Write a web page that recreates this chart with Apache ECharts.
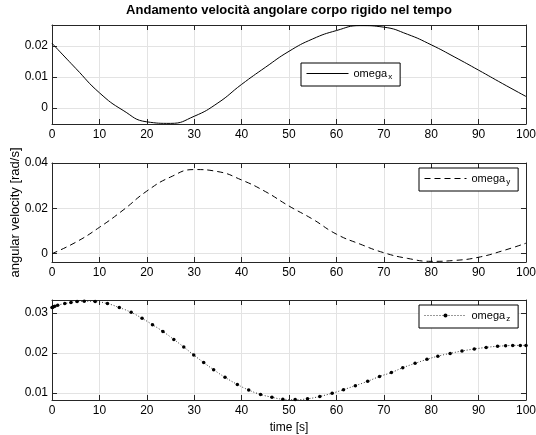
<!DOCTYPE html>
<html>
<head>
<meta charset="utf-8">
<script src="https://cdn.jsdelivr.net/npm/echarts@6/dist/echarts.min.js"></script>
<style>
  html, body { margin: 0; padding: 0; background: #fff; }
  #chart { width: 536px; height: 435px; }
</style>
</head>
<body>
<div id="chart"></div>
<script>
// tempo [s] per omega_x e omega_y (letti ogni 5 s)
const tXY = [0, 5, 10, 15, 20, 25, 30, 35, 40, 45, 50, 55, 60, 65, 70, 75, 80, 85, 90, 95, 100]
const omegaX = [0.0209, 0.0128, 0.0049, -0.0008, -0.0045, -0.0050, -0.0027, 0.0016, 0.0076, 0.0131, 0.0183,
  0.0223, 0.0250, 0.0266, 0.0261, 0.0238, 0.0204, 0.0164, 0.0122, 0.0079, 0.0037]
const omegaY = [0.0000, 0.0050, 0.0116, 0.0192, 0.0276, 0.0338, 0.0371, 0.0362, 0.0325, 0.0274, 0.0210,
  0.0152, 0.0086, 0.0042, 0.0004, -0.0021, -0.0034, -0.0030, -0.0016, 0.0012, 0.0046]
// passi del solutore per omega_z (marker)
const tZ = [0, 0.15, 0.3, 0.6, 1.2, 2.7, 4.0, 5.3, 6.8, 9.1, 11.7, 14.2, 16.7, 19.0, 21.2, 23.4, 25.7, 27.8,
  29.9, 32.0, 34.1, 36.5, 39.1, 41.5, 44.0, 46.4, 48.7, 51.3, 53.9, 56.5, 59.1, 61.5, 64.0, 66.6, 69.1,
  71.6, 74.0, 76.6, 79.1, 81.4, 84.0, 86.5, 89.1, 91.6, 94.0, 95.7, 97.2, 98.8, 100]
const omegaZ = [0.0314, 0.0315, 0.0316, 0.0317, 0.0320, 0.0324, 0.0327, 0.0329, 0.0330, 0.0329, 0.0324,
  0.0314, 0.0302, 0.0287, 0.0271, 0.0254, 0.0234, 0.0215, 0.0195, 0.0176, 0.0158, 0.0139, 0.0121, 0.0107,
  0.0096, 0.0089, 0.0084, 0.0083, 0.0085, 0.0091, 0.0099, 0.0108, 0.0118, 0.0129, 0.0141, 0.0151, 0.0163,
  0.0174, 0.0184, 0.0192, 0.0199, 0.0205, 0.0210, 0.0214, 0.0217, 0.0218, 0.0219, 0.0219, 0.0219]
// tick labels asse y
const yTicks1 = [0, 0.01, 0.02]
const yTicks2 = [0, 0.02, 0.04]
const yTicks3 = [0.01, 0.02, 0.03]
const yRange1 = [-0.0052, 0.0268]
const yRange2 = [-0.0037, 0.04]
const yRange3 = [0.0082, 0.0333]

const FONT = 'Liberation Sans, Arial, sans-serif'
const AX = '#262626'
const GRIDC = '#e3e3e3'

const chart = echarts.init(document.getElementById('chart'))

function xAx(gi, pos, name) {
  const primary = pos === 'bottom'
  return {
    type: 'value', gridIndex: gi, position: pos, min: 0, max: 100, interval: 10,
    name: name || '', nameLocation: 'middle', nameGap: 22,
    nameTextStyle: { color: '#000', fontSize: 12, fontFamily: FONT },
    axisLine: { show: true, onZero: false, lineStyle: { color: AX, width: 1 } },
    axisTick: { show: true, inside: true, length: 5, lineStyle: { color: AX } },
    axisLabel: { show: primary, color: '#000', fontSize: 12, fontFamily: FONT, margin: 5 },
    splitLine: { show: primary, lineStyle: { color: GRIDC, width: 1 } }
  }
}

function yAx(gi, pos, range, ticks, name) {
  const primary = pos === 'left'
  return {
    type: 'value', gridIndex: gi, position: pos, min: range[0], max: range[1],
    name: name || '', nameLocation: 'middle', nameGap: 30, nameRotate: 90, nameMoveOverlap: false,
    nameTextStyle: { color: '#000', fontSize: 13, fontFamily: FONT },
    axisLine: { show: true, onZero: false, lineStyle: { color: AX, width: 1 } },
    axisTick: { show: true, inside: true, length: 5, customValues: ticks, lineStyle: { color: AX } },
    axisLabel: { show: primary, customValues: ticks, color: '#000', fontSize: 12, fontFamily: FONT, margin: 4 },
    splitLine: { show: primary, lineStyle: { color: GRIDC, width: 1 } }
  }
}

function legendBox(seriesName, left, top, withMarker) {
  return {
    data: [seriesName], left: left, top: top, orient: 'horizontal',
    itemWidth: 42, itemHeight: 5, padding: [5, 8, 5, 5],
    borderColor: '#000', borderWidth: 1, backgroundColor: '#fff',
    selectedMode: false,
    lineStyle: { width: 1 },
    itemStyle: withMarker ? {} : { opacity: 0 },
    formatter: function (name) {
      const parts = name.split('_')
      return '{m|' + parts[0] + '}{s|' + parts[1] + '}'
    },
    textStyle: {
      color: '#000', fontFamily: FONT,
      rich: {
        m: { fontSize: 11, fontFamily: FONT, color: '#000' },
        s: { fontSize: 8, fontFamily: FONT, color: '#000', padding: [7, 0, 0, 1] }
      }
    }
  }
}

chart.setOption({
  animation: false,
  backgroundColor: '#fff',
  title: {
    text: 'Andamento velocità angolare corpo rigido nel tempo',
    left: 289, top: 4, textAlign: 'center', padding: 0,
    textStyle: { fontSize: 13, fontWeight: 'bold', color: '#000', fontFamily: FONT }
  },
  grid: [
    { left: 52, right: 10, top: 25, height: 99, outerBoundsMode: 'none', containLabel: false },
    { left: 52, right: 10, top: 163, height: 99, outerBoundsMode: 'none', containLabel: false },
    { left: 52, right: 10, top: 300, height: 100, outerBoundsMode: 'none', containLabel: false }
  ],
  xAxis: [
    xAx(0, 'bottom'), xAx(1, 'bottom'), xAx(2, 'bottom', 'time [s]'),
    xAx(0, 'top'), xAx(1, 'top'), xAx(2, 'top')
  ],
  yAxis: [
    yAx(0, 'left', yRange1, yTicks1),
    yAx(1, 'left', yRange2, yTicks2, 'angular velocity [rad/s]'),
    yAx(2, 'left', yRange3, yTicks3),
    yAx(0, 'right', yRange1, yTicks1),
    yAx(1, 'right', yRange2, yTicks2),
    yAx(2, 'right', yRange3, yTicks3)
  ],
  legend: [
    legendBox('omega_x', 301, 63, false),
    legendBox('omega_y', 419, 168, false),
    legendBox('omega_z', 419, 305, true)
  ],
  series: [
    {
      name: 'omega_x', type: 'line', xAxisIndex: 0, yAxisIndex: 0,
      data: tXY.map((t, i) => [t, omegaX[i]]),
      smooth: true, symbol: 'none',
      lineStyle: { color: '#000', width: 1 }, itemStyle: { color: '#000' }
    },
    {
      name: 'omega_y', type: 'line', xAxisIndex: 1, yAxisIndex: 1,
      data: tXY.map((t, i) => [t, omegaY[i]]),
      smooth: true, symbol: 'none',
      lineStyle: { color: '#000', width: 1, type: [6, 4] }, itemStyle: { color: '#000' }
    },
    {
      name: 'omega_z', type: 'line', xAxisIndex: 2, yAxisIndex: 2,
      data: tZ.map((t, i) => [t, omegaZ[i]]),
      smooth: true, symbol: 'circle', symbolSize: 3.5, showSymbol: true,
      lineStyle: { color: '#333', width: 1, type: [1, 2] }, itemStyle: { color: '#000' }
    }
  ]
})
</script>
</body>
</html>
